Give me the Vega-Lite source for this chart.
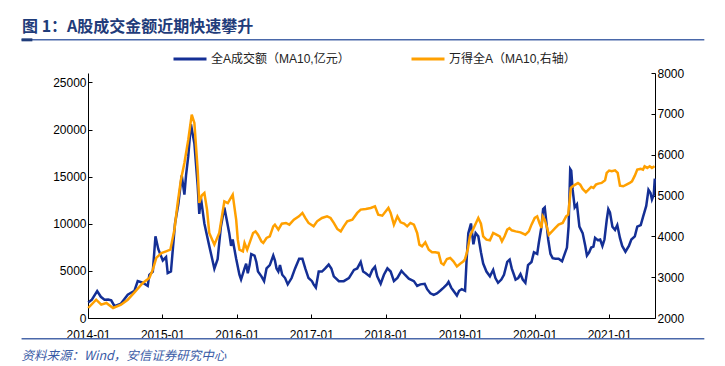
{
 "$schema": "https://vega.github.io/schema/vega-lite/v6.json",
 "width": 567,
 "height": 245,
 "autosize": {"type": "none"},
 "padding": {"left": 88, "top": 73, "right": 70, "bottom": 48},
 "background": "white",
 "config": {"view": {"stroke": null}, "font": "Liberation Sans"},
 "title": {"text": "图 1：A股成交金额近期快速攀升", "anchor": "start", "frame": "group", "dx": -66, "offset": 3, "font": "Noto Sans CJK SC", "fontSize": 16, "fontWeight": "bold", "color": "#1F3C7A"},
 "resolve": {"scale": {"y": "independent"}},
 "layer": [
  {
   "layer": [
    {
     "data": {"values": [
      {"date":"2014-01-02","v":1650},{"date":"2014-01-20","v":1950},{"date":"2014-02-15","v":2850},{"date":"2014-03-05","v":2250},{"date":"2014-03-23","v":1940},{"date":"2014-04-10","v":1950},{"date":"2014-04-25","v":1870},{"date":"2014-05-11","v":1250},{"date":"2014-06-12","v":1530},{"date":"2014-07-15","v":2480},{"date":"2014-08-17","v":2890},{"date":"2014-09-02","v":3910},{"date":"2014-09-27","v":3740},{"date":"2014-10-21","v":3400},{"date":"2014-10-29","v":4590},{"date":"2014-11-15","v":4930},{"date":"2014-11-28","v":8670},{"date":"2014-12-12","v":7300},{"date":"2015-01-03","v":6110},{"date":"2015-01-19","v":6460},{"date":"2015-01-27","v":4760},{"date":"2015-02-12","v":4930},{"date":"2015-03-04","v":10030},{"date":"2015-03-20","v":12070},{"date":"2015-04-06","v":15130},{"date":"2015-04-19","v":13090},{"date":"2015-04-27","v":15130},{"date":"2015-05-08","v":17170},{"date":"2015-05-21","v":20560},{"date":"2015-06-07","v":18520},{"date":"2015-06-23","v":14110},{"date":"2015-07-01","v":11050},{"date":"2015-07-09","v":12750},{"date":"2015-07-26","v":10030},{"date":"2015-08-19","v":7650},{"date":"2015-09-13","v":5230},{"date":"2015-09-29","v":6240},{"date":"2015-10-15","v":9690},{"date":"2015-11-01","v":11730},{"date":"2015-11-10","v":10710},{"date":"2015-11-25","v":9000},{"date":"2015-12-04","v":7650},{"date":"2015-12-12","v":8330},{"date":"2015-12-29","v":6280},{"date":"2016-01-14","v":4590},{"date":"2016-01-22","v":4080},{"date":"2016-02-08","v":5260},{"date":"2016-02-16","v":5770},{"date":"2016-02-24","v":4750},{"date":"2016-03-04","v":5610},{"date":"2016-03-12","v":6790},{"date":"2016-03-28","v":6630},{"date":"2016-04-06","v":5950},{"date":"2016-04-14","v":4930},{"date":"2016-05-01","v":4420},{"date":"2016-05-14","v":3910},{"date":"2016-05-26","v":5260},{"date":"2016-06-11","v":5610},{"date":"2016-06-28","v":6630},{"date":"2016-07-06","v":6120},{"date":"2016-07-14","v":5260},{"date":"2016-07-23","v":4930},{"date":"2016-07-31","v":5610},{"date":"2016-08-11","v":4590},{"date":"2016-08-25","v":4240},{"date":"2016-09-07","v":3570},{"date":"2016-09-26","v":4240},{"date":"2016-10-13","v":5260},{"date":"2016-11-02","v":6280},{"date":"2016-11-18","v":6280},{"date":"2016-12-02","v":5260},{"date":"2016-12-18","v":4240},{"date":"2017-01-04","v":3910},{"date":"2017-01-12","v":3570},{"date":"2017-01-23","v":3230},{"date":"2017-02-06","v":4930},{"date":"2017-02-22","v":4930},{"date":"2017-03-10","v":5260},{"date":"2017-03-27","v":5670},{"date":"2017-04-09","v":5260},{"date":"2017-04-21","v":4420},{"date":"2017-05-16","v":3910},{"date":"2017-06-09","v":3910},{"date":"2017-07-04","v":4240},{"date":"2017-07-29","v":5100},{"date":"2017-08-14","v":5260},{"date":"2017-08-31","v":5950},{"date":"2017-09-12","v":4930},{"date":"2017-09-25","v":4750},{"date":"2017-10-14","v":4420},{"date":"2017-10-27","v":5100},{"date":"2017-11-09","v":5440},{"date":"2017-11-20","v":4420},{"date":"2017-12-07","v":3635},{"date":"2017-12-23","v":4590},{"date":"2018-01-09","v":5266},{"date":"2018-01-25","v":4930},{"date":"2018-02-10","v":3910},{"date":"2018-02-27","v":4246},{"date":"2018-03-19","v":5000},{"date":"2018-04-05","v":4590},{"date":"2018-04-24","v":4180},{"date":"2018-05-19","v":3910},{"date":"2018-06-04","v":3400},{"date":"2018-06-20","v":3570},{"date":"2018-07-11","v":3635},{"date":"2018-07-23","v":3060},{"date":"2018-08-08","v":2615},{"date":"2018-08-24","v":2450},{"date":"2018-09-09","v":2615},{"date":"2018-09-25","v":2890},{"date":"2018-10-12","v":3226},{"date":"2018-10-28","v":3570},{"date":"2018-11-05","v":3838},{"date":"2018-11-18","v":3226},{"date":"2018-11-29","v":2890},{"date":"2018-12-16","v":2380},{"date":"2018-12-27","v":2890},{"date":"2019-01-09","v":3060},{"date":"2019-01-25","v":2890},{"date":"2019-02-02","v":6286},{"date":"2019-02-10","v":9010},{"date":"2019-02-23","v":10030},{"date":"2019-03-07","v":7816},{"date":"2019-03-18","v":9010},{"date":"2019-03-31","v":8670},{"date":"2019-04-13","v":6970},{"date":"2019-04-24","v":5776},{"date":"2019-05-10","v":4930},{"date":"2019-05-27","v":4420},{"date":"2019-06-12","v":5100},{"date":"2019-06-23","v":4246},{"date":"2019-07-06","v":3736},{"date":"2019-07-22","v":4080},{"date":"2019-08-04","v":4590},{"date":"2019-08-20","v":5950},{"date":"2019-09-01","v":6200},{"date":"2019-09-11","v":5266},{"date":"2019-09-22","v":4590},{"date":"2019-09-30","v":4080},{"date":"2019-10-13","v":4246},{"date":"2019-10-24","v":4658},{"date":"2019-11-04","v":4080},{"date":"2019-11-17","v":3736},{"date":"2019-11-30","v":5606},{"date":"2019-12-17","v":5946},{"date":"2019-12-29","v":6970},{"date":"2020-01-14","v":6800},{"date":"2020-01-22","v":7990},{"date":"2020-02-04","v":9690},{"date":"2020-02-12","v":11560},{"date":"2020-02-20","v":11730},{"date":"2020-02-27","v":10370},{"date":"2020-03-08","v":8330},{"date":"2020-03-19","v":6800},{"date":"2020-03-30","v":6354},{"date":"2020-04-12","v":6286},{"date":"2020-04-28","v":6286},{"date":"2020-05-15","v":6014},{"date":"2020-05-28","v":6800},{"date":"2020-06-08","v":7476},{"date":"2020-06-16","v":9690},{"date":"2020-06-24","v":15806},{"date":"2020-06-29","v":15636},{"date":"2020-07-06","v":13596},{"date":"2020-07-16","v":11730},{"date":"2020-07-27","v":12066},{"date":"2020-08-08","v":9690},{"date":"2020-08-24","v":9010},{"date":"2020-09-06","v":7646},{"date":"2020-09-14","v":6630},{"date":"2020-09-25","v":6970},{"date":"2020-10-05","v":7476},{"date":"2020-10-16","v":7578},{"date":"2020-10-24","v":8500},{"date":"2020-11-06","v":8262},{"date":"2020-11-18","v":8330},{"date":"2020-11-29","v":7646},{"date":"2020-12-09","v":8330},{"date":"2020-12-20","v":10370},{"date":"2020-12-28","v":11560},{"date":"2021-01-05","v":11220},{"date":"2021-01-17","v":9690},{"date":"2021-01-30","v":9350},{"date":"2021-02-10","v":9860},{"date":"2021-02-23","v":8500},{"date":"2021-03-06","v":7646},{"date":"2021-03-22","v":7038},{"date":"2021-04-08","v":7646},{"date":"2021-04-20","v":8330},{"date":"2021-05-07","v":8670},{"date":"2021-05-19","v":9690},{"date":"2021-06-05","v":9860},{"date":"2021-06-16","v":10710},{"date":"2021-07-02","v":11900},{"date":"2021-07-13","v":13596},{"date":"2021-07-23","v":13256},{"date":"2021-07-30","v":12576},{"date":"2021-08-08","v":13086},{"date":"2021-08-13","v":14786}
     ]},
     "mark": {"type": "line", "strokeWidth": 2.5},
     "encoding": {
      "x": {"field": "date", "type": "temporal", "scale": {"domain": [{"year":2014,"month":1,"date":1},{"year":2021,"month":8,"date":14}]},
            "axis": {"title": null, "format": "%Y-%m", "tickCount": {"interval": "year", "step": 1}, "labelFont": "Liberation Sans", "labelFontSize": 12, "labelColor": "#000", "domainColor": "#000", "tickColor": "#000", "tickSize": -4, "labelPadding": 15, "grid": false, "labelFlush": false, "labelOverlap": false}},
      "y": {"field": "v", "type": "quantitative", "scale": {"domain": [0, 25000]},
            "axis": {"title": null, "orient": "left", "values": [0,5000,10000,15000,20000,25000], "format": "d", "labelFont": "Liberation Sans", "labelFontSize": 12, "labelColor": "#000", "domainColor": "#000", "tickColor": "#000", "tickSize": -4, "labelPadding": 6, "grid": false}},
      "color": {"datum": "全A成交额（MA10,亿元）", "type": "nominal",
                "scale": {"domain": ["全A成交额（MA10,亿元）", "万得全A（MA10,右轴）"], "range": ["#142F95", "#FFA000"]},
                "legend": {"orient": "none", "legendX": 84, "legendY": -32, "direction": "horizontal", "title": null, "symbolType": "stroke", "symbolSize": 1089, "symbolStrokeWidth": 3, "labelFont": "Liberation Sans, Noto Sans CJK SC", "labelFontSize": 12, "labelColor": "#222", "columnPadding": 55, "labelOffset": 3, "padding": 0}}
     }
    },
    {
     "data": {"values": [{}]},
     "mark": {"type": "rule", "color": "#4A68AA", "strokeWidth": 1.5},
     "encoding": {
      "x": {"datum": {"year":2013,"month":2,"date":9}, "type": "temporal"},
      "x2": {"datum": {"year":2022,"month":4,"date":13}},
      "y": {"datum": 29520, "type": "quantitative"}
     }
    },
    {
     "data": {"values": [{}]},
     "mark": {"type": "rule", "color": "#1F3C7A", "strokeWidth": 3},
     "encoding": {
      "x": {"datum": {"year":2013,"month":2,"date":9}, "type": "temporal"},
      "x2": {"datum": {"year":2013,"month":4,"date":3}},
      "y": {"datum": 29520, "type": "quantitative"}
     }
    },
    {
     "data": {"values": [{}]},
     "mark": {"type": "rule", "color": "#4A68AA", "strokeWidth": 1.5},
     "encoding": {
      "x": {"datum": {"year":2013,"month":2,"date":9}, "type": "temporal"},
      "x2": {"datum": {"year":2022,"month":4,"date":13}},
      "y": {"datum": -2214, "type": "quantitative"}
     }
    },
    {
     "data": {"values": [{}]},
     "mark": {"type": "text", "align": "left", "baseline": "middle", "font": "Noto Sans CJK SC", "fontSize": 12.5, "fontStyle": "italic", "color": "#3A5BA6", "text": "资料来源：Wind，安信证券研究中心"},
     "encoding": {
      "x": {"datum": {"year":2013,"month":2,"date":9}, "type": "temporal"},
      "y": {"datum": -4051, "type": "quantitative"}
     }
    }
   ]
  },
  {
   "data": {"values": [
    {"date":"2014-01-02","v":2245},{"date":"2014-02-10","v":2448},{"date":"2014-03-07","v":2326},{"date":"2014-04-01","v":2367},{"date":"2014-05-04","v":2245},{"date":"2014-06-12","v":2326},{"date":"2014-07-15","v":2448},{"date":"2014-08-17","v":2627},{"date":"2014-09-27","v":2857},{"date":"2014-10-29","v":2980},{"date":"2014-11-15","v":3183},{"date":"2014-12-02","v":3470},{"date":"2014-12-27","v":3592},{"date":"2015-01-19","v":3633},{"date":"2015-02-09","v":3673},{"date":"2015-03-01","v":4163},{"date":"2015-03-17","v":4817},{"date":"2015-04-02","v":5388},{"date":"2015-04-19","v":5797},{"date":"2015-05-08","v":6368},{"date":"2015-05-25","v":6981},{"date":"2015-06-07","v":6778},{"date":"2015-06-23","v":5633},{"date":"2015-07-01","v":4817},{"date":"2015-07-13","v":5000},{"date":"2015-07-26","v":5060},{"date":"2015-08-08","v":4653},{"date":"2015-08-19","v":4083},{"date":"2015-09-13","v":3796},{"date":"2015-10-07","v":4083},{"date":"2015-11-01","v":4857},{"date":"2015-11-18","v":4816},{"date":"2015-12-12","v":5021},{"date":"2015-12-29","v":4408},{"date":"2016-01-06","v":3918},{"date":"2016-01-14","v":3673},{"date":"2016-01-31","v":3632},{"date":"2016-02-08","v":3838},{"date":"2016-02-21","v":3673},{"date":"2016-03-04","v":3838},{"date":"2016-03-21","v":4083},{"date":"2016-04-02","v":4122},{"date":"2016-04-14","v":4041},{"date":"2016-05-01","v":3877},{"date":"2016-05-10","v":3838},{"date":"2016-05-26","v":3960},{"date":"2016-06-11","v":4000},{"date":"2016-06-28","v":4245},{"date":"2016-07-06","v":4286},{"date":"2016-07-23","v":4163},{"date":"2016-08-09","v":4310},{"date":"2016-08-29","v":4328},{"date":"2016-09-15","v":4286},{"date":"2016-10-07","v":4408},{"date":"2016-11-01","v":4490},{"date":"2016-11-18","v":4573},{"date":"2016-12-02","v":4450},{"date":"2016-12-18","v":4328},{"date":"2017-01-12","v":4245},{"date":"2017-01-29","v":4367},{"date":"2017-02-22","v":4450},{"date":"2017-03-19","v":4490},{"date":"2017-04-05","v":4450},{"date":"2017-04-21","v":4328},{"date":"2017-05-08","v":4180},{"date":"2017-05-25","v":4122},{"date":"2017-06-09","v":4245},{"date":"2017-06-26","v":4367},{"date":"2017-07-21","v":4408},{"date":"2017-08-14","v":4573},{"date":"2017-08-31","v":4655},{"date":"2017-09-25","v":4670},{"date":"2017-10-19","v":4695},{"date":"2017-11-09","v":4735},{"date":"2017-11-25","v":4531},{"date":"2017-12-15","v":4506},{"date":"2018-01-01","v":4612},{"date":"2018-01-14","v":4695},{"date":"2018-01-25","v":4573},{"date":"2018-02-10","v":4286},{"date":"2018-02-27","v":4490},{"date":"2018-03-15","v":4343},{"date":"2018-04-01","v":4310},{"date":"2018-04-16","v":4245},{"date":"2018-05-02","v":4328},{"date":"2018-05-19","v":4286},{"date":"2018-06-04","v":4083},{"date":"2018-06-15","v":3796},{"date":"2018-06-28","v":3755},{"date":"2018-07-14","v":3853},{"date":"2018-07-31","v":3673},{"date":"2018-08-16","v":3608},{"date":"2018-09-01","v":3608},{"date":"2018-09-17","v":3593},{"date":"2018-09-30","v":3348},{"date":"2018-10-12","v":3306},{"date":"2018-10-28","v":3446},{"date":"2018-11-13","v":3470},{"date":"2018-11-29","v":3387},{"date":"2018-12-16","v":3265},{"date":"2019-01-01","v":3330},{"date":"2019-01-17","v":3387},{"date":"2019-01-25","v":3446},{"date":"2019-02-07","v":3673},{"date":"2019-02-18","v":4000},{"date":"2019-03-01","v":4122},{"date":"2019-03-18","v":4310},{"date":"2019-03-31","v":4450},{"date":"2019-04-13","v":4310},{"date":"2019-04-24","v":4000},{"date":"2019-05-10","v":3918},{"date":"2019-05-27","v":3902},{"date":"2019-06-12","v":4083},{"date":"2019-06-28","v":4041},{"date":"2019-07-14","v":4000},{"date":"2019-07-25","v":3877},{"date":"2019-08-07","v":4000},{"date":"2019-08-20","v":4163},{"date":"2019-08-31","v":4200},{"date":"2019-09-11","v":4147},{"date":"2019-09-30","v":4122},{"date":"2019-10-24","v":4098},{"date":"2019-11-17","v":4041},{"date":"2019-12-04","v":4122},{"date":"2019-12-17","v":4286},{"date":"2020-01-02","v":4450},{"date":"2020-01-14","v":4490},{"date":"2020-01-25","v":4328},{"date":"2020-02-04","v":4205},{"date":"2020-02-10","v":4490},{"date":"2020-02-20","v":4408},{"date":"2020-03-03","v":4205},{"date":"2020-03-11","v":4041},{"date":"2020-03-27","v":4122},{"date":"2020-04-12","v":4205},{"date":"2020-04-28","v":4286},{"date":"2020-05-18","v":4328},{"date":"2020-06-04","v":4490},{"date":"2020-06-14","v":4530},{"date":"2020-06-20","v":4818},{"date":"2020-06-27","v":5185},{"date":"2020-07-06","v":5225},{"date":"2020-07-19","v":5266},{"date":"2020-08-01","v":5308},{"date":"2020-08-12","v":5266},{"date":"2020-08-24","v":5160},{"date":"2020-09-09","v":5078},{"date":"2020-09-22","v":5143},{"date":"2020-10-05","v":5210},{"date":"2020-10-16","v":5185},{"date":"2020-10-28","v":5266},{"date":"2020-11-09","v":5291},{"date":"2020-11-25","v":5308},{"date":"2020-12-12","v":5372},{"date":"2020-12-20","v":5553},{"date":"2021-01-01","v":5609},{"date":"2021-01-14","v":5593},{"date":"2021-01-30","v":5617},{"date":"2021-02-12","v":5553},{"date":"2021-02-23","v":5241},{"date":"2021-03-11","v":5225},{"date":"2021-03-27","v":5266},{"date":"2021-04-12","v":5308},{"date":"2021-04-23","v":5347},{"date":"2021-05-07","v":5486},{"date":"2021-05-19","v":5633},{"date":"2021-06-05","v":5651},{"date":"2021-06-16","v":5633},{"date":"2021-06-24","v":5715},{"date":"2021-07-07","v":5675},{"date":"2021-07-19","v":5715},{"date":"2021-07-30","v":5675},{"date":"2021-08-12","v":5715}
   ]},
   "mark": {"type": "line", "strokeWidth": 2.5},
   "encoding": {
    "x": {"field": "date", "type": "temporal", "scale": {"domain": [{"year":2014,"month":1,"date":1},{"year":2021,"month":8,"date":14}]}},
    "y": {"field": "v", "type": "quantitative", "scale": {"domain": [2000, 8000]},
          "axis": {"title": null, "orient": "right", "values": [2000,3000,4000,5000,6000,7000,8000], "format": "d", "labelFont": "Liberation Sans", "labelFontSize": 12, "labelColor": "#000", "domainColor": "#000", "tickColor": "#000", "tickSize": -4, "labelPadding": 6, "grid": false}},
    "color": {"datum": "万得全A（MA10,右轴）", "type": "nominal"}
   }
  }
 ]
}
